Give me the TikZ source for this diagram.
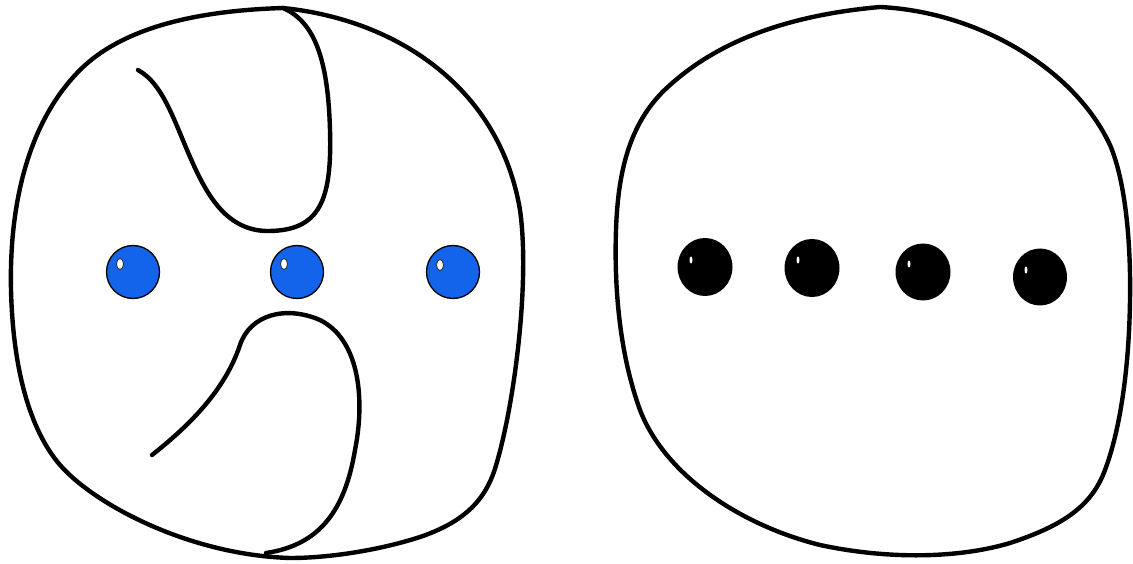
\documentclass[tikz,border=0pt]{standalone}
\usetikzlibrary{shapes.geometric}
\begin{document}
\definecolor{dotblue}{RGB}{20,100,235}
\begin{tikzpicture}[x=1pt,y=-1pt,
  outline/.style={line width=4.4pt, line join=round, line cap=round},
  bluedot/.style={circle, draw=black, line width=1.3pt, fill=dotblue, minimum size=53pt, inner sep=0pt},
  blackdot/.style={ellipse, fill=black, inner sep=0pt},
  shine/.style={ellipse, draw=black!80, line width=0.9pt, fill=white, minimum width=7pt, minimum height=11pt, inner sep=0pt},
  glint/.style={ellipse, fill=white, minimum width=3pt, minimum height=7pt, inner sep=0pt}]
\useasboundingbox (0,0) rectangle (1133,564);
\fill[white] (0,0) rectangle (1133,564);
% left blob outline
\draw[outline] (283,8) .. controls (400,20) and (500,90) .. (520,210)
  .. controls (530,280) and (515,400) .. (497,462)
  .. controls (488,495) and (470,520) .. (420,537)
  .. controls (380,550) and (330,558) .. (290,558)
  .. controls (190,555) and (95,505) .. (60,465)
  .. controls (30,430) and (13,370) .. (11,290)
  .. controls (9,200) and (30,120) .. (80,70)
  .. controls (130,20) and (220,10) .. cycle;
% top inner curve
\draw[outline] (283,8) .. controls (315,22) and (328,60) .. (330,130)
  .. controls (332,200) and (320,230) .. (270,231)
  .. controls (230,232) and (210,200) .. (195,168)
  .. controls (175,125) and (165,85) .. (138,70);
% bottom inner curve
\draw[outline] (152,455) .. controls (190,425) and (225,390) .. (240,345)
  .. controls (250,315) and (285,305) .. (320,320)
  .. controls (360,340) and (365,400) .. (355,450)
  .. controls (345,510) and (320,545) .. (266,553);
% right blob outline
\draw[outline] (880,7) .. controls (980,12) and (1075,70) .. (1110,145)
  .. controls (1125,180) and (1131,240) .. (1130,300)
  .. controls (1129,370) and (1120,430) .. (1105,470)
  .. controls (1092,505) and (1065,525) .. (1010,543)
  .. controls (960,558) and (890,560) .. (820,545)
  .. controls (740,525) and (665,475) .. (640,410)
  .. controls (620,355) and (614,290) .. (616,230)
  .. controls (618,170) and (630,120) .. (670,85)
  .. controls (720,40) and (790,15) .. cycle;
% blue dots
\node[bluedot] (b1) at (133,272) {};
\node[bluedot] (b2) at (297,272) {};
\node[bluedot] (b3) at (453,272) {};
\node[shine] (s1) at (120,264) {};
\node[shine] (s2) at (284,264) {};
\node[shine] (s3) at (440,265) {};
% black dots
\node[blackdot, minimum width=55pt, minimum height=58pt] (k1) at (705,267) {};
\node[blackdot, minimum width=55pt, minimum height=58pt] (k2) at (812,268) {};
\node[blackdot, minimum width=55pt, minimum height=57pt] (k3) at (923,272) {};
\node[blackdot, minimum width=54pt, minimum height=57pt] (k4) at (1040,277) {};
\node[glint] (g1) at (691,260) {};
\node[glint] (g2) at (798,260) {};
\node[glint] (g3) at (909,264) {};
\node[glint] (g4) at (1026,270) {};
\end{tikzpicture}
\end{document}
